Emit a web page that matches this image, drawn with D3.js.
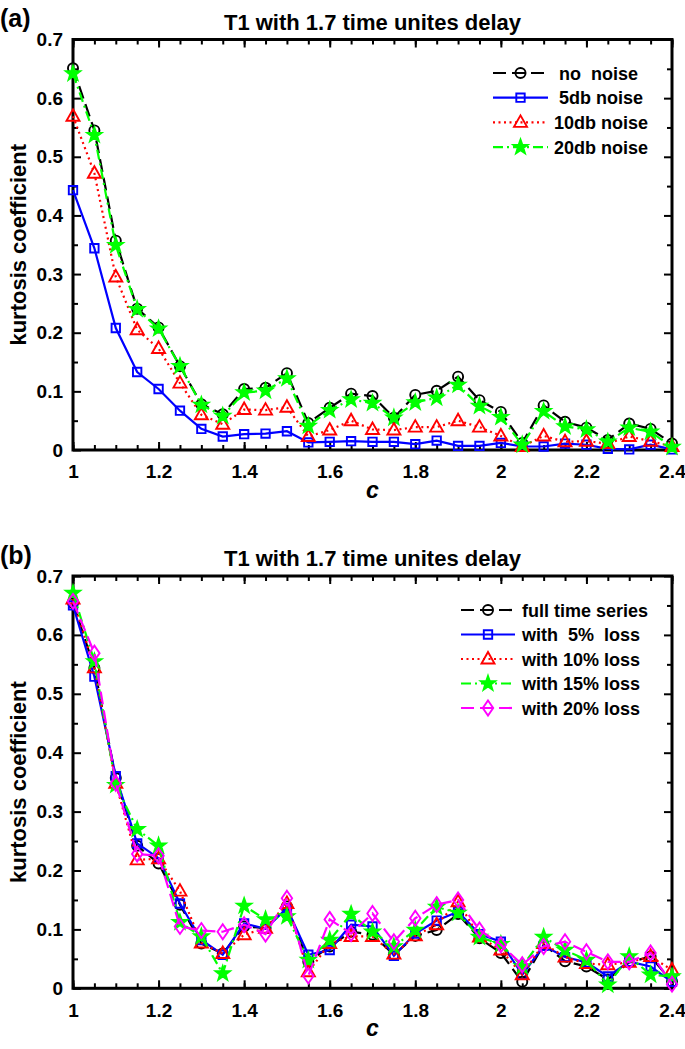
<!DOCTYPE html>
<html>
<head>
<meta charset="utf-8">
<script src="https://cdn.jsdelivr.net/npm/d3@7"></script>
<style>
  body { margin: 0; background: #fff; }
  text { font-family: "Liberation Sans", Arial, sans-serif; font-weight: bold; }
</style>
</head>
<body>
<div class="canvas"></div>
<script>
// x values (c)
const cVals = [1.00, 1.05, 1.10, 1.15, 1.20, 1.25, 1.30, 1.35, 1.40, 1.45, 1.50, 1.55, 1.60, 1.65, 1.70,
  1.75, 1.80, 1.85, 1.90, 1.95, 2.00, 2.05, 2.10, 2.15, 2.20, 2.25, 2.30, 2.35, 2.40];

// panel (a) - noise
const noNoise = [0.651, 0.545, 0.357, 0.241, 0.209, 0.143, 0.078, 0.061, 0.104, 0.106, 0.131, 0.046, 0.072, 0.096, 0.092,
  0.055, 0.094, 0.101, 0.125, 0.085, 0.065, 0.012, 0.076, 0.048, 0.038, 0.017, 0.045, 0.036, 0.011];
const db5 = [0.443, 0.344, 0.208, 0.133, 0.104, 0.067, 0.036, 0.023, 0.027, 0.028, 0.032, 0.013, 0.014, 0.015, 0.014,
  0.014, 0.010, 0.016, 0.007, 0.007, 0.012, 0.006, 0.006, 0.011, 0.009, 0.002, 0.001, 0.009, 0.001];
const db10 = [0.569, 0.472, 0.295, 0.205, 0.173, 0.114, 0.060, 0.044, 0.069, 0.068, 0.073, 0.023, 0.034, 0.050, 0.035,
  0.034, 0.039, 0.039, 0.050, 0.039, 0.024, 0.006, 0.024, 0.014, 0.015, 0.011, 0.023, 0.015, 0.006];
const db20 = [0.642, 0.537, 0.349, 0.240, 0.207, 0.143, 0.077, 0.058, 0.098, 0.101, 0.122, 0.041, 0.068, 0.086, 0.080,
  0.055, 0.081, 0.089, 0.111, 0.075, 0.056, 0.009, 0.066, 0.040, 0.035, 0.014, 0.038, 0.031, 0.005];

// panel (b) - data loss
const fullSeries = [0.654, 0.544, 0.357, 0.242, 0.212, 0.142, 0.076, 0.059, 0.105, 0.102, 0.139, 0.045, 0.071, 0.096, 0.091,
  0.057, 0.089, 0.099, 0.126, 0.085, 0.060, 0.011, 0.074, 0.046, 0.037, 0.015, 0.044, 0.054, 0.011];
const loss5 = [0.650, 0.529, 0.360, 0.246, 0.221, 0.144, 0.082, 0.057, 0.110, 0.101, 0.136, 0.057, 0.065, 0.108, 0.105,
  0.055, 0.093, 0.115, 0.130, 0.092, 0.079, 0.023, 0.072, 0.053, 0.044, 0.020, 0.045, 0.037, 0.011];
const loss10 = [0.661, 0.544, 0.348, 0.218, 0.220, 0.165, 0.077, 0.059, 0.091, 0.102, 0.144, 0.028, 0.076, 0.088, 0.088,
  0.058, 0.089, 0.108, 0.147, 0.087, 0.065, 0.023, 0.076, 0.053, 0.042, 0.040, 0.044, 0.054, 0.031];
const loss15 = [0.671, 0.555, 0.345, 0.270, 0.242, 0.112, 0.088, 0.025, 0.140, 0.117, 0.122, 0.048, 0.082, 0.126, 0.096,
  0.071, 0.099, 0.138, 0.128, 0.087, 0.075, 0.037, 0.087, 0.065, 0.048, 0.006, 0.054, 0.023, 0.020];
const loss20 = [0.657, 0.569, 0.348, 0.228, 0.225, 0.105, 0.098, 0.096, 0.108, 0.092, 0.153, 0.021, 0.117, 0.093, 0.127,
  0.079, 0.119, 0.142, 0.150, 0.099, 0.074, 0.040, 0.071, 0.079, 0.062, 0.045, 0.045, 0.060, 0.007];

// ticks
const xTicks = [1, 1.2, 1.4, 1.6, 1.8, 2, 2.2, 2.4];
const yTicks = [0, 0.1, 0.2, 0.3, 0.4, 0.5, 0.6, 0.7];
const yMinor = [0.05, 0.15, 0.25, 0.35, 0.45, 0.55, 0.65];

// labels
const titleText = "T1 with 1.7 time unites delay";
const namesA = [" no  noise", " 5db noise", "10db noise", "20db noise"];
const namesB = ["full time series", "with  5%  loss", "with 10% loss", "with 15% loss", "with 20% loss"];

// marker shapes
const starPath = (R, r) => {
  const pts = d3.range(10).map(i => {
    const a = -Math.PI / 2 + i * Math.PI / 5;
    const rad = i % 2 ? r : R;
    return [rad * Math.cos(a), rad * Math.sin(a)];
  });
  return 'M' + pts.map(p => p.join(',')).join('L') + 'Z';
};
const markers = {
  circle: d3.symbol(d3.symbolCircle, 80)(),
  square: 'M-4.2,-4.2h8.4v8.4h-8.4Z',
  triangle: 'M0,-7L6.5,4.5L-6.5,4.5Z',
  star: starPath(7.5, 3),
  diamond: 'M0,-7.5L5.2,0L0,7.5L-5.2,0Z'
};

const styles = [
  { color: '#000000', dash: '13,6', marker: 'circle', fill: 'none' },
  { color: '#0000ff', dash: null, marker: 'square', fill: 'none' },
  { color: '#ff0000', dash: '2,3.5', marker: 'triangle', fill: 'none' },
  { color: '#00ff00', dash: '10,4,2,4', marker: 'star', fill: '#00ff00' },
  { color: '#ff00ff', dash: '13,6', marker: 'diamond', fill: 'none' }
];

const dims = { width: 685, height: 1049, left: 73, right: 672 };

const svg = d3.select('.canvas')
  .append('svg')
  .attr('width', dims.width)
  .attr('height', dims.height);

svg.append('rect').attr('width', dims.width).attr('height', dims.height).attr('fill', '#fff');

const x = d3.scaleLinear().domain([1, 2.4]).range([dims.left, dims.right]);

const panels = [
  { letter: '(a)', top: 39.5, bottom: 450, series: [noNoise, db5, db10, db20], names: namesA,
    legend: { x1: 493, x2: 548, textX: 554, y0: 73, step: 24.7 } },
  { letter: '(b)', top: 576, bottom: 988.3, series: [fullSeries, loss5, loss10, loss15, loss20], names: namesB,
    legend: { x1: 461, x2: 515, textX: 522, y0: 610, step: 24.5 } }
];

const drawPanel = (p) => {
  const y = d3.scaleLinear().domain([0, 0.7]).range([p.bottom, p.top]);
  const g = svg.append('g');

  // letter + title
  g.append('text').attr('x', 0).attr('y', p.top - 12.5)
    .style('font-size', '25px').text(p.letter);
  g.append('text').attr('x', (dims.left + dims.right) / 2).attr('y', p.top - 10)
    .attr('text-anchor', 'middle').style('font-size', '22px').text(titleText);

  // axes (ticks pointing inward)
  const styleAxis = sel => {
    sel.select('.domain').remove();
    sel.selectAll('line').attr('stroke', '#000').attr('stroke-width', 2);
    sel.selectAll('text').attr('fill', '#000')
      .style('font-size', '19px').style('font-family', '"Liberation Sans", Arial, sans-serif')
      .style('font-weight', 'bold');
  };
  const fmtY = d => d === 0 ? '0' : d3.format('.1f')(d);

  g.append('g').attr('transform', `translate(0,${p.bottom})`)
    .call(d3.axisBottom(x).tickValues(cVals).tickSizeInner(-5).tickSizeOuter(0).tickFormat(''))
    .call(styleAxis);
  g.append('g').attr('transform', `translate(0,${p.bottom})`)
    .call(d3.axisBottom(x).tickValues(xTicks).tickSizeInner(-8).tickSizeOuter(0).tickPadding(15).tickFormat(d3.format('~g')))
    .call(styleAxis);
  g.append('g').attr('transform', `translate(0,${p.top})`)
    .call(d3.axisTop(x).tickValues(cVals).tickSizeInner(-5).tickSizeOuter(0).tickFormat(''))
    .call(styleAxis);
  g.append('g').attr('transform', `translate(0,${p.top})`)
    .call(d3.axisTop(x).tickValues(xTicks).tickSizeInner(-8).tickSizeOuter(0).tickFormat(''))
    .call(styleAxis);
  g.append('g').attr('transform', `translate(${dims.left},0)`)
    .call(d3.axisLeft(y).tickValues(yTicks).tickSizeInner(-8).tickSizeOuter(0).tickPadding(10).tickFormat(fmtY))
    .call(styleAxis);
  g.append('g').attr('transform', `translate(${dims.left},0)`)
    .call(d3.axisLeft(y).tickValues(yMinor).tickSizeInner(-5).tickSizeOuter(0).tickFormat(''))
    .call(styleAxis);
  g.append('g').attr('transform', `translate(${dims.right},0)`)
    .call(d3.axisRight(y).tickValues(yTicks).tickSizeInner(-8).tickSizeOuter(0).tickFormat(''))
    .call(styleAxis);
  g.append('g').attr('transform', `translate(${dims.right},0)`)
    .call(d3.axisRight(y).tickValues(yMinor).tickSizeInner(-5).tickSizeOuter(0).tickFormat(''))
    .call(styleAxis);

  // frame
  g.append('rect')
    .attr('x', dims.left).attr('y', p.top)
    .attr('width', dims.right - dims.left).attr('height', p.bottom - p.top)
    .attr('fill', 'none').attr('stroke', '#000').attr('stroke-width', 3);

  // axis labels
  g.append('text').attr('x', (dims.left + dims.right) / 2).attr('y', p.bottom + 48)
    .attr('text-anchor', 'middle').style('font-size', '23px').style('font-style', 'italic').text('c');
  g.append('text')
    .attr('transform', `translate(26,${(p.top + p.bottom) / 2}) rotate(-90)`)
    .attr('text-anchor', 'middle').style('font-size', '22px').text('kurtosis coefficient');

  // series
  const line = d3.line().x((d, i) => x(cVals[i])).y(d => y(d));
  p.series.forEach((vals, k) => {
    const s = styles[k];
    const sg = g.append('g');
    sg.append('path').datum(vals)
      .attr('d', line)
      .attr('fill', 'none')
      .attr('stroke', s.color)
      .attr('stroke-width', 2.2)
      .attr('stroke-dasharray', s.dash);
    sg.selectAll('path.mk').data(vals).enter()
      .append('path').attr('class', 'mk')
      .attr('transform', (d, i) => `translate(${x(cVals[i])},${y(d)})`)
      .attr('d', markers[s.marker])
      .attr('fill', s.fill)
      .attr('stroke', s.color)
      .attr('stroke-width', 1.9);
  });

  // legend
  const L = p.legend;
  p.names.forEach((name, k) => {
    const s = styles[k];
    const ly = L.y0 + k * L.step;
    const lg = g.append('g');
    lg.append('line')
      .attr('x1', L.x1).attr('x2', L.x2).attr('y1', ly).attr('y2', ly)
      .attr('stroke', s.color).attr('stroke-width', 2.2)
      .attr('stroke-dasharray', s.dash);
    lg.append('path')
      .attr('transform', `translate(${(L.x1 + L.x2) / 2},${ly})`)
      .attr('d', markers[s.marker])
      .attr('fill', s.fill).attr('stroke', s.color).attr('stroke-width', 1.9);
    lg.append('text')
      .attr('x', L.textX).attr('y', ly + 6.5)
      .style('font-size', '18px').style('white-space', 'pre')
      .text(name);
  });
};

panels.forEach(drawPanel);
</script>
</body>
</html>
